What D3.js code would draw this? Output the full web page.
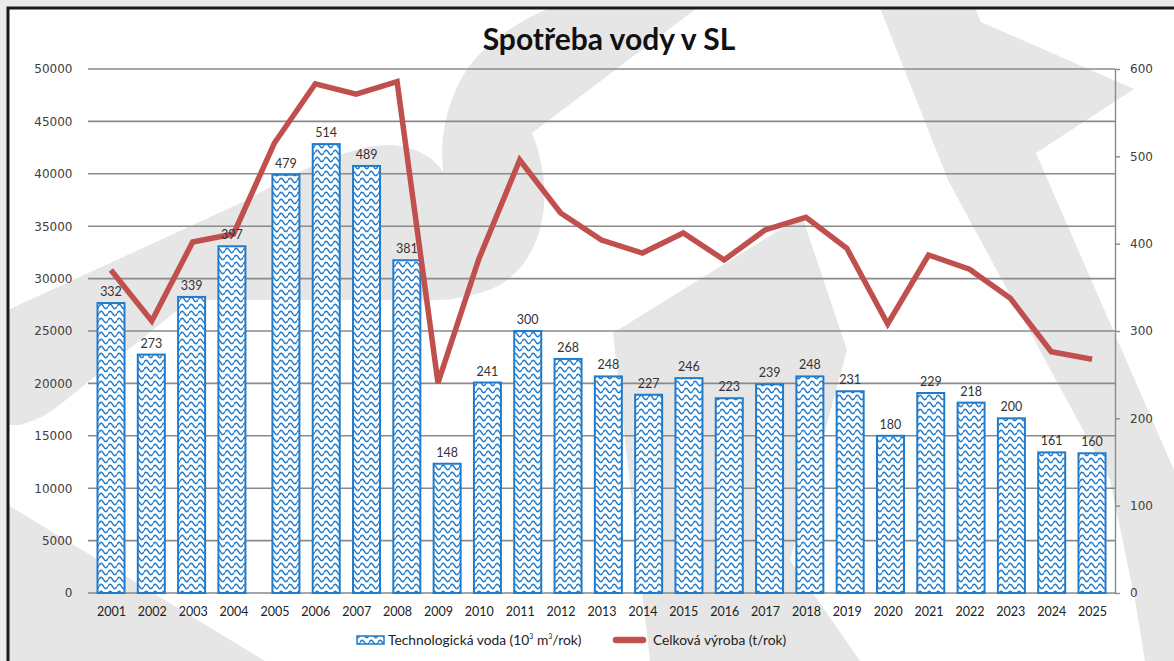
<!DOCTYPE html>
<html><head><meta charset="utf-8">
<script src="https://cdn.jsdelivr.net/npm/d3@7/dist/d3.min.js"></script>
<style>body{margin:0;background:#fff;overflow:hidden}</style>
</head><body>
<svg id="c" width="1174" height="661"></svg>
<script>
// ---- data ----
const years = ["2001","2002","2003","2004","2005","2006","2007","2008","2009","2010","2011","2012","2013","2014","2015","2016","2017","2018","2019","2020","2021","2022","2023","2024","2025"];
const vodaValues = [332,273,339,397,479,514,489,381,148,241,300,268,248,227,246,223,239,248,231,180,229,218,200,161,160];
const vyrobaValues = [30820,25950,33490,34260,42940,48590,47610,48790,20040,31870,41320,36260,33680,32440,34350,31780,34640,35850,32890,25670,32250,30890,28120,23030,22300];
const leftTicks = [0,5000,10000,15000,20000,25000,30000,35000,40000,45000,50000];
const rightTicks = [0,100,200,300,400,500,600];
const titleText = "Spotřeba vody v SL";
const legendVoda = "Technologická voda (10";
const legendVyroba = "Celková výroba (t/rok)";

// ---- layout ----
const W = 1174, H = 661;
const plotL = 88, plotR = 1115, plotT = 69, plotB = 593;
const blue = "#1f7bcc", red = "#c0504d", grid = "#8a8a8a", txt = "#333";

const svg = d3.select("#c");
const defs = svg.append("defs");
const pat = defs.append("pattern").attr("id","wave").attr("patternUnits","userSpaceOnUse")
  .attr("width",9).attr("height",7).attr("x",0).attr("y",2);
pat.append("rect").attr("width",9).attr("height",7).attr("fill","#fff");
pat.append("path").attr("d","M0,3.5 C1.5,0.6 3,0.6 4.5,3.5 S7.5,6.4 9,3.5")
  .attr("fill","none").attr("stroke",blue).attr("stroke-width",1.6);
defs.append("clipPath").attr("id","inner").append("rect").attr("x",9).attr("y",9).attr("width",W).attr("height",H);

// frame
svg.append("rect").attr("width",W).attr("height",H).attr("fill","#ebebeb");
svg.append("rect").attr("x",8).attr("y",8).attr("width",W).attr("height",H).attr("fill","#fff");

// watermark
const wm = svg.append("g").attr("clip-path","url(#inner)").attr("fill","#e6e6e6");
wm.append("path").attr("d","M550,8 L697,8 L532,133 C550,175 555,250 500,285 C460,305 420,300 380,300 L190,300 L62,403 Q45,418 20,425 L8,425 L8,310 L247,200 C300,170 350,145 390,145 C415,146 435,158 443,172 C440,140 445,100 470,65 C490,40 520,20 550,8 Z");
wm.append("path").attr("d","M8,505 L265,661 L8,661 Z");
wm.append("path").attr("d","M880,8 L975,8 L981,22 L1134,89 L1036,153 L1174,470 L1174,661 L1145,661 L1135,600 L1110,480 L948,180 Z");
wm.append("path").attr("d","M613,333 L802,216 L847,350 L790,560 L860,661 L650,661 Z");

svg.append("path").attr("d",`M8,${H} L8,8 L${W},8`).attr("fill","none").attr("stroke","#1a1a1a").attr("stroke-width",3);

// scales
const yL = d3.scaleLinear().domain([0,50000]).range([plotB,plotT]);
const yR = d3.scaleLinear().domain([0,600]).range([plotB,plotT]);
const xP = d3.scalePoint().domain(years).range([plotL,plotR]).padding(0.56);
const xBar = d3.scaleLinear().domain([0,24.34]).range([111,1092]);
const barCenter = i => xBar(i + (i>=4 ? 0.34 : 0));
const barW = 27;

// gridlines
svg.append("g").selectAll("line").data(leftTicks).join("line")
  .attr("x1",plotL).attr("x2",plotR).attr("y1",d=>yL(d)).attr("y2",d=>yL(d))
  .attr("stroke",grid).attr("stroke-width",1.6);

// left axis
const gl = svg.append("g").attr("transform",`translate(${plotL},0)`)
  .call(d3.axisLeft(yL).tickValues(leftTicks).tickSize(0).tickPadding(15.5).tickFormat(d3.format("d")));
gl.select(".domain").remove();
gl.selectAll("text").attr("font-family","DejaVu Sans").attr("font-size",12).attr("fill","#404040");

// right axis
const gr = svg.append("g").attr("transform",`translate(${plotR},0)`)
  .call(d3.axisRight(yR).tickValues(rightTicks).tickSizeInner(5).tickSizeOuter(0).tickPadding(10));
gr.select(".domain").attr("stroke",grid).attr("stroke-width",1.4);
gr.selectAll(".tick line").attr("stroke",grid).attr("stroke-width",1.4);
gr.selectAll("text").attr("font-family","DejaVu Sans").attr("font-size",12).attr("fill","#404040");

// bottom labels
const gb = svg.append("g").attr("transform",`translate(0,${plotB})`)
  .call(d3.axisBottom(xP).tickSize(0).tickPadding(14));
gb.select(".domain").remove();
gb.selectAll("text").attr("font-family","Lato").attr("font-size",12.5).attr("fill","#222");

// bars
svg.append("g").selectAll("rect").data(vodaValues).join("rect")
  .attr("x",(d,i)=>barCenter(i)-barW/2).attr("width",barW)
  .attr("y",d=>yR(d)).attr("height",d=>yR(0)-yR(d))
  .attr("fill","url(#wave)").attr("stroke",blue).attr("stroke-width",2);

// line
svg.append("path").datum(vyrobaValues)
  .attr("d",d3.line().x((d,i)=>xP(years[i])).y(d=>yL(d)))
  .attr("fill","none").attr("stroke",red).attr("stroke-width",5.5).attr("stroke-linejoin","miter");

// bar labels (on top)
svg.append("g").selectAll("text").data(vodaValues).join("text")
  .attr("x",(d,i)=>barCenter(i)).attr("y",d=>yR(d)-7)
  .attr("text-anchor","middle").attr("font-family","Lato").attr("font-size",12.5).attr("fill",txt)
  .text(d=>d);

// title
svg.append("text").attr("x",609).attr("y",50).attr("text-anchor","middle")
  .attr("font-family","Lato").attr("font-weight","bold").attr("font-size",30).attr("fill","#111")
  .text(titleText);

// legend
const lg = svg.append("g").attr("font-family","Lato").attr("font-size",13.8).attr("fill","#222");
lg.append("rect").attr("x",357).attr("y",636).attr("width",27).attr("height",8)
  .attr("fill","url(#wave)").attr("stroke",blue).attr("stroke-width",1.5);
const t1 = lg.append("text").attr("x",388).attr("y",645);
t1.append("tspan").text(legendVoda);
t1.append("tspan").attr("font-size",7).attr("dy",-6).text("3");
t1.append("tspan").attr("dy",6).text(" m");
t1.append("tspan").attr("font-size",7).attr("dy",-6).text("3");
t1.append("tspan").attr("dy",6).text("/rok)");
lg.append("line").attr("x1",616).attr("x2",643).attr("y1",640).attr("y2",640)
  .attr("stroke",red).attr("stroke-width",6.5).attr("stroke-linecap","round");
lg.append("text").attr("x",653).attr("y",645).text(legendVyroba);
</script>
</body></html>
